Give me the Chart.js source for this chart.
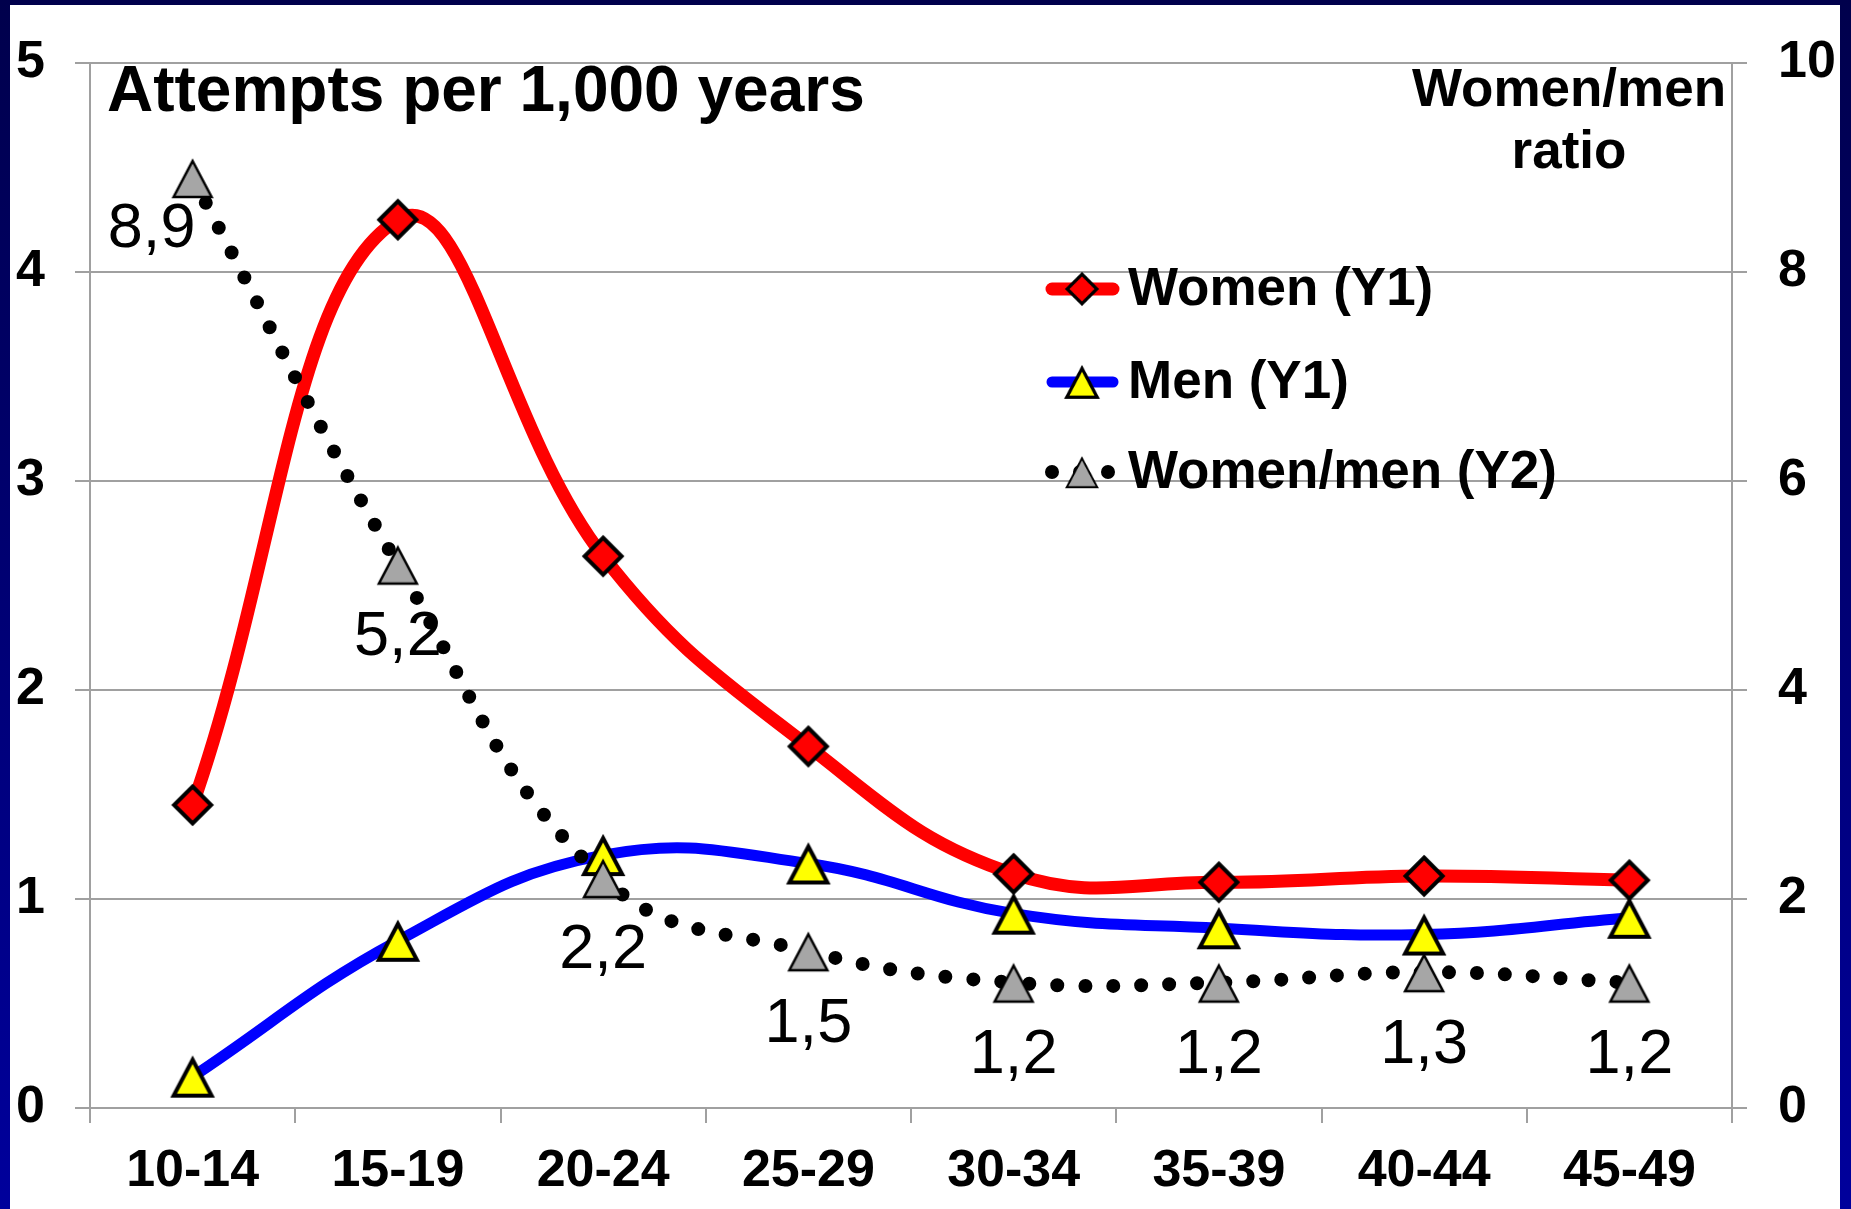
<!DOCTYPE html>
<html>
<head>
<meta charset="utf-8">
<script src="https://cdn.jsdelivr.net/npm/chart.js@4.4.1/dist/chart.umd.min.js"></script>
<style>
  html, body { margin: 0; padding: 0; background: #fff; }
  #wrap { width: 1851px; height: 1209px; position: relative; }
</style>
</head>
<body>
<div id="wrap"><canvas id="graph"></canvas></div>
<script>
// age groups (x axis)
const ageGroups = ["10-14", "15-19", "20-24", "25-29", "30-34", "35-39", "40-44", "45-49"];
// attempts per 1,000 (left axis)
const womenRates = [1.45, 4.25, 2.64, 1.73, 1.12, 1.08, 1.11, 1.09];
const menRates = [0.15, 0.80, 1.21, 1.17, 0.93, 0.86, 0.83, 0.91];
// women/men ratio (right axis)
const ratioValues = [8.9, 5.2, 2.2, 1.5, 1.2, 1.2, 1.3, 1.2];

const seriesNames = ["Women (Y1)", "Men (Y1)", "Women/men (Y2)"];
const leftTitle = "Attempts per 1,000 years";
const rightTitle = ["Women/men", "ratio"];

const FONT = '"Liberation Sans", Arial, Helvetica, sans-serif';
Chart.defaults.font.family = FONT;
Chart.defaults.color = "#000";

// markers drawn once on small canvases, used as pointStyle
function makeMarker(shape, fill, lineWidth) {
  const c = document.createElement("canvas");
  c.width = 50;
  c.height = 50;
  const g = c.getContext("2d");
  g.beginPath();
  if (shape === "diamond") {
    g.moveTo(25, 6.5);
    g.lineTo(43.5, 25);
    g.lineTo(25, 43.5);
    g.lineTo(6.5, 25);
  } else {
    g.moveTo(25, 8);
    g.lineTo(44, 44);
    g.lineTo(6, 44);
  }
  g.closePath();
  g.fillStyle = fill;
  g.fill();
  g.lineJoin = "miter";
  g.lineWidth = lineWidth;
  g.strokeStyle = "#000";
  g.stroke();
  return c;
}

const diamondRed = makeMarker("diamond", "#ff0000", 4);
const triYellow = makeMarker("triangle", "#ffff00", 4);
const triGray = makeMarker("triangle", "#a6a6a6", 2.5);

const GRID = "#a0a0a0";

// 背景（スライド風の枠）
const backgroundPlugin = {
  id: "slideBackground",
  beforeDraw(chart) {
    const { ctx, width, height } = chart;
    const grad = ctx.createLinearGradient(0, 0, 0, height);
    grad.addColorStop(0, "#00004c");
    grad.addColorStop(1, "#00009c");
    ctx.save();
    ctx.fillStyle = grad;
    ctx.fillRect(0, 0, width, height);
    ctx.fillStyle = "#fff";
    ctx.fillRect(10, 5, width - 21, height - 5);
    ctx.restore();
  },
};

// ratio value labels under the gray triangles
const ratioLabelPlugin = {
  id: "ratioLabels",
  afterDatasetsDraw(chart) {
    const ctx = chart.ctx;
    const meta = chart.getDatasetMeta(2);
    ctx.save();
    ctx.font = "63px " + FONT;
    ctx.fillStyle = "#000";
    ctx.textAlign = "center";
    ctx.textBaseline = "middle";
    meta.data.forEach((pt, i) => {
      const text = ratioValues[i].toFixed(1).replace(".", ",");
      if (i === 0) {
        ctx.fillText(text, pt.x - 41, pt.y + 52);
      } else {
        ctx.fillText(text, pt.x, pt.y + 73);
      }
    });
    ctx.restore();
  },
};

// titles and legend
const textPlugin = {
  id: "titlesAndLegend",
  afterDraw(chart) {
    const ctx = chart.ctx;
    ctx.save();
    ctx.fillStyle = "#000";
    ctx.font = "bold 64px " + FONT;
    ctx.textAlign = "left";
    ctx.textBaseline = "alphabetic";
    ctx.fillText(leftTitle, 107, 111);

    ctx.font = "bold 53px " + FONT;
    ctx.textAlign = "center";
    ctx.fillText(rightTitle[0], 1569, 106);
    ctx.fillText(rightTitle[1], 1569, 168);

    // legend rows
    const rowY = [289, 382, 472];
    chart.data.datasets.forEach((ds, i) => {
      const y = rowY[i];
      ctx.save();
      ctx.beginPath();
      ctx.strokeStyle = ds.borderColor;
      ctx.lineWidth = ds.borderWidth;
      ctx.lineCap = "round";
      ctx.setLineDash(ds.borderDash || []);
      if (ds.borderDash) {
        ctx.moveTo(1052, y);
        ctx.lineTo(1111, y);
      } else {
        ctx.moveTo(1052, y);
        ctx.lineTo(1113, y);
      }
      ctx.stroke();
      ctx.restore();
      const m = ds.pointStyle;
      const w = m.width * 0.8;
      ctx.drawImage(m, 1082 - w / 2, y - w / 2, w, w);
      ctx.font = "bold 53px " + FONT;
      ctx.textAlign = "left";
      ctx.textBaseline = "middle";
      ctx.fillText(ds.label, 1128, y + 1);
    });
    ctx.restore();
  },
};

new Chart(document.getElementById("graph"), {
  type: "line",
  data: {
    labels: ageGroups,
    datasets: [
      {
        label: seriesNames[0],
        data: womenRates,
        yAxisID: "y",
        borderColor: "#ff0000",
        borderWidth: 13,
        tension: 0.42,
        pointStyle: diamondRed,
        pointRadius: 20,
        fill: false,
        order: 1,
      },
      {
        label: seriesNames[1],
        data: menRates,
        yAxisID: "y",
        borderColor: "#0000ff",
        borderWidth: 11,
        tension: 0.42,
        pointStyle: triYellow,
        pointRadius: 20,
        fill: false,
        order: 2,
      },
      {
        label: seriesNames[2],
        data: ratioValues,
        yAxisID: "y2",
        borderColor: "#000000",
        borderWidth: 14,
        borderDash: [0, 28],
        borderCapStyle: "round",
        tension: 0.42,
        pointStyle: triGray,
        pointRadius: 20,
        fill: false,
        order: 0,
      },
    ],
  },
  options: {
    responsive: true,
    maintainAspectRatio: false,
    animation: false,
    layout: { padding: { top: 63, left: 0, right: 0, bottom: 0 } },
    plugins: {
      legend: { display: false },
      tooltip: { enabled: false },
      title: { display: false },
    },
    scales: {
      x: {
        offset: true,
        grid: {
          offset: true,
          drawOnChartArea: false,
          color: GRID,
          lineWidth: 2,
          tickLength: 15,
        },
        border: { color: GRID, width: 2 },
        ticks: {
          font: { size: 52, weight: "bold" },
          padding: 17,
          maxRotation: 0,
          autoSkip: false,
        },
        afterFit(scale) {
          scale.height = 101;
        },
      },
      y: {
        position: "left",
        min: 0,
        max: 5,
        ticks: { stepSize: 1, font: { size: 52, weight: "bold" }, padding: 30 },
        grid: { color: GRID, lineWidth: 2, tickLength: 15 },
        border: { color: GRID, width: 2 },
        afterFit(scale) {
          scale.width = 90;
        },
      },
      y2: {
        position: "right",
        min: 0,
        max: 10,
        ticks: { stepSize: 2, font: { size: 52, weight: "bold" }, padding: 31 },
        grid: { drawOnChartArea: false, color: GRID, lineWidth: 2, tickLength: 15 },
        border: { color: GRID, width: 2 },
        afterFit(scale) {
          scale.width = 119;
        },
      },
    },
  },
  plugins: [backgroundPlugin, ratioLabelPlugin, textPlugin],
});
</script>
</body>
</html>
